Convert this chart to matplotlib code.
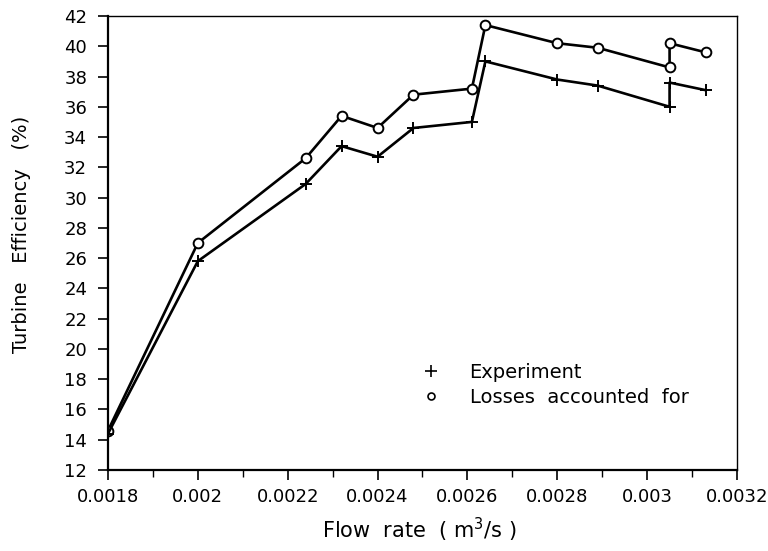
import matplotlib
matplotlib.use("Agg")
import matplotlib.pyplot as plt
from matplotlib.lines import Line2D

# flow rate (m^3/s) and efficiencies (%)
flow = [0.0018, 0.0020, 0.00224, 0.00232, 0.0024, 0.00248, 0.00261,
        0.00264, 0.0028, 0.00289, 0.00305, 0.00305, 0.00313]
experiment = [14.4, 25.8, 30.9, 33.4, 32.7, 34.6, 35.0,
              39.0, 37.8, 37.4, 36.0, 37.6, 37.1]
losses = [14.6, 27.0, 32.6, 35.4, 34.6, 36.8, 37.2,
          41.4, 40.2, 39.9, 38.6, 40.2, 39.6]

x_ticks = [0.0018, 0.002, 0.0022, 0.0024, 0.0026, 0.0028, 0.003, 0.0032]
x_ticklabels = ['0.0018', '0.002', '0.0022', '0.0024', '0.0026', '0.0028', '0.003', '0.0032']
x_minor = [0.0019, 0.0021, 0.0023, 0.0025, 0.0027, 0.0029, 0.0031]
y_ticks = list(range(12, 43, 2))

fig = plt.figure(figsize=(7.68, 5.51), dpi=100)
ax = fig.add_axes([0.1406, 0.147, 0.819, 0.824])

ax.plot(flow, losses, color='black', lw=1.9, marker='o', ms=7,
        mfc='white', mec='black', mew=1.4)
ax.plot(flow, experiment, color='black', lw=1.9, marker='+', ms=8.5, mew=1.4)

ax.set_xlim(0.0018, 0.0032)
ax.set_ylim(12, 42)
ax.set_xticks(x_ticks)
ax.set_xticklabels(x_ticklabels)
ax.set_xticks(x_minor, minor=True)
ax.set_yticks(y_ticks)

ax.tick_params(axis='both', which='major', direction='out', length=7, width=1.2, labelsize=13)
ax.tick_params(axis='x', which='minor', direction='out', length=5, width=1.0)
ax.tick_params(axis='x', which='major', pad=6)
ax.tick_params(axis='y', which='major', pad=8)
for side in ['left', 'bottom']:
    ax.spines[side].set_linewidth(1.6)
for side in ['top', 'right']:
    ax.spines[side].set_linewidth(1.0)

ax.set_xlabel('Flow  rate  ( m$^3$/s )', fontsize=15)
ax.set_ylabel('Turbine   Efficiency   (%)', fontsize=14)
ax.xaxis.set_label_coords(0.495, -0.1)
ax.yaxis.set_label_coords(-0.122, 0.52)

handles = [Line2D([], [], ls='none', marker='+', color='black', ms=8, mew=1.2),
           Line2D([], [], ls='none', marker='o', ms=5, mfc='white', mec='black', mew=1.2)]
ax.legend(handles, ['Experiment', 'Losses  accounted  for'], loc='upper left',
          bbox_to_anchor=(0.4976, 0.2357), frameon=False, fontsize=14,
          borderaxespad=0, borderpad=0,
          handlelength=1.0, handletextpad=1.5, labelspacing=0.3)

plt.savefig('out.png', dpi=100)
